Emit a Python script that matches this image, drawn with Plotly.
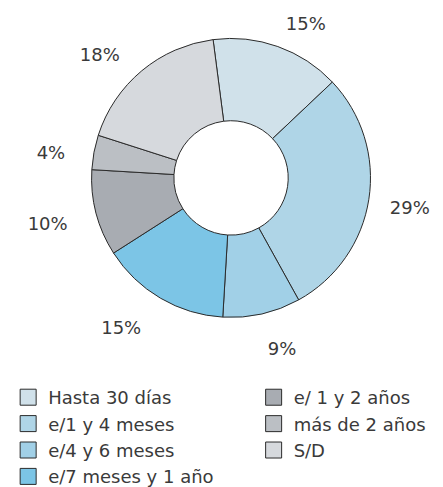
import plotly.graph_objects as go

categories = ["Hasta 30 días", "e/1 y 4 meses", "e/4 y 6 meses", "e/7 meses y 1 año",
              "e/ 1 y 2 años", "más de 2 años", "S/D"]
values = [15, 29, 9, 15, 10, 4, 18]
colors = ["#d0e1ea", "#afd5e7", "#a1d0e7", "#7cc5e6", "#a8acb2", "#bbbfc4", "#d6d9dd"]

W, H = 443, 487
FONT = "DejaVu Sans"
TXT = "#3a3a3a"
LINE = "#2b2b2b"

# the page body adds an 8px margin, so positions are given in figure pixels
cx, cy, r_ring = 219, 177, 147        # donut centre and radius
lx, ly, r_lab = 215, 182, 168         # label-carrier pie centre and radius


def dom(x0, y0, r):
    return dict(x=[(x0 - r) / W, (x0 + r) / W], y=[(H - y0 - r) / H, (H - y0 + r) / H])


fig = go.Figure()

# invisible carrier pie that places the percentage labels a bit further out
fig.add_trace(go.Pie(
    labels=categories, values=values, sort=False, direction="clockwise", rotation=-7.4,
    domain=dom(lx, ly, r_lab), hole=0.9,
    marker=dict(colors=["rgba(0,0,0,0)"] * len(values), line=dict(width=0)),
    textinfo="percent", texttemplate="%{percent:.0%}", textposition="outside",
    textfont=dict(family=FONT, size=18, color=TXT),
    showlegend=False, hoverinfo="skip"))

# visible donut
fig.add_trace(go.Pie(
    labels=categories, values=values, sort=False, direction="clockwise", rotation=-7.4,
    domain=dom(cx, cy, r_ring), hole=0.41,
    marker=dict(colors=colors, line=dict(color=LINE, width=1)),
    textinfo="none", showlegend=False))

# legend entries in two columns
for i, (name, col) in enumerate(zip(categories, colors)):
    fig.add_trace(go.Scatter(
        x=[None], y=[None], mode="markers", name=name,
        marker=dict(symbol="square", size=16, color=col, line=dict(color=LINE, width=1)),
        legend="legend" if i < 4 else "legend2", showlegend=True))

leg_common = dict(orientation="v", xanchor="left", yanchor="top",
                  font=dict(family=FONT, size=18, color=TXT),
                  bgcolor="rgba(0,0,0,0)", itemclick=False, itemdoubleclick=False,
                  tracegroupgap=0)
fig.update_layout(
    width=W, height=H,
    margin=dict(l=0, r=0, t=0, b=0),
    paper_bgcolor="white", plot_bgcolor="white",
    xaxis=dict(visible=False), yaxis=dict(visible=False),
    legend=dict(x=-8 / W, y=(H - 389) / H, **leg_common),
    legend2=dict(x=242 / W, y=(H - 389) / H, **leg_common),
    font=dict(family=FONT, color=TXT),
)

fig.write_html("out.html")
